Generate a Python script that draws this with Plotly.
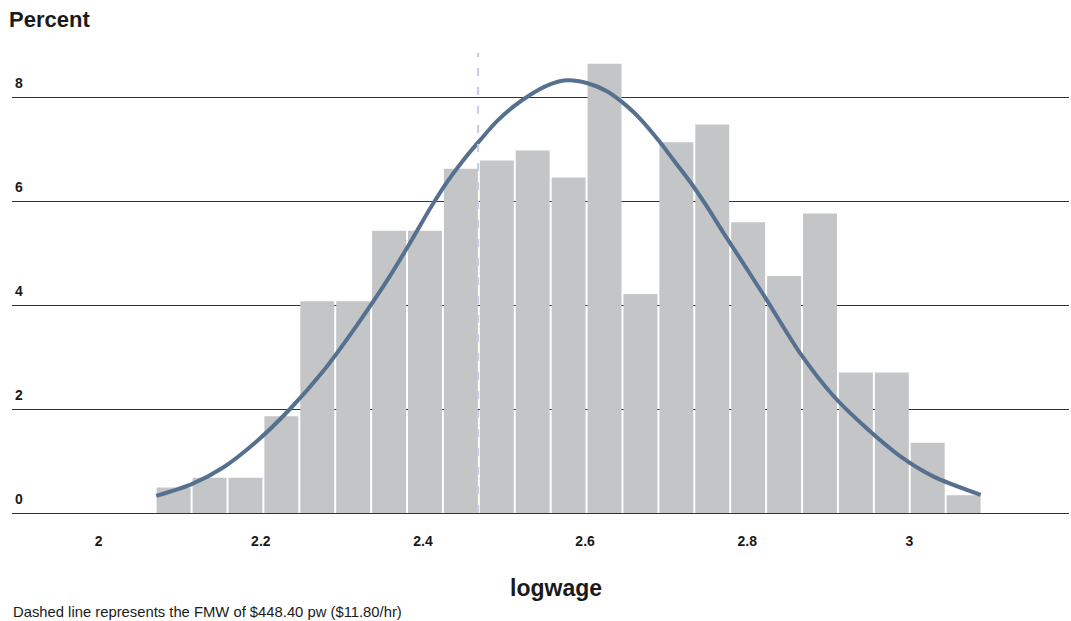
import plotly.graph_objects as go

# ---- data ----
bin_centers = [2.0924, 2.1367, 2.1810, 2.2253, 2.2696, 2.3139, 2.3582, 2.4025,
               2.4468, 2.4911, 2.5354, 2.5797, 2.6240, 2.6683, 2.7126, 2.7569,
               2.8012, 2.8455, 2.8898, 2.9341, 2.9784, 3.0227, 3.0670]
percent = [0.49, 0.68, 0.68, 1.86, 4.07, 4.07, 5.43, 5.43, 6.62, 6.78, 6.97, 6.45,
           8.64, 4.21, 7.13, 7.47, 5.59, 4.56, 5.76, 2.70, 2.70, 1.35, 0.34]

curve_x = [2.071, 2.114, 2.154, 2.195, 2.236, 2.277, 2.318, 2.359, 2.388, 2.409,
           2.429, 2.450, 2.471, 2.491, 2.512, 2.532, 2.553, 2.577, 2.602, 2.627,
           2.652, 2.668, 2.693, 2.709, 2.730, 2.750, 2.771, 2.791, 2.824, 2.865,
           2.907, 2.948, 2.989, 3.030, 3.088]
curve_y = [0.33, 0.55, 0.88, 1.38, 2.00, 2.73, 3.60, 4.55, 5.30, 5.86,
           6.35, 6.79, 7.18, 7.53, 7.82, 8.04, 8.22, 8.32, 8.27, 8.11,
           7.82, 7.58, 7.12, 6.79, 6.36, 5.90, 5.38, 4.90, 4.10, 3.08,
           2.24, 1.62, 1.09, 0.70, 0.35]

fmw_logwage = 2.468  # ln(11.80)

x_ticks = [2, 2.2, 2.4, 2.6, 2.8, 3]
x_tick_labels = ["2", "2.2", "2.4", "2.6", "2.8", "3"]
y_ticks = [0, 2, 4, 6, 8]
y_tick_labels = ["0", "2", "4", "6", "8"]

FONT = "Liberation Sans, Arial, Helvetica, sans-serif"
TXT = "#1a1a1a"

fig = go.Figure()
fig.add_trace(go.Bar(x=bin_centers, y=percent, marker=dict(color="#c4c5c7", line=dict(width=0)),
                     hoverinfo="x+y", showlegend=False))
fig.add_trace(go.Scatter(x=curve_x, y=curve_y, mode="lines",
                         line=dict(color="#56708f", width=4, shape="spline", smoothing=0.8),
                         showlegend=False))

fig.add_shape(type="line", xref="x", yref="paper", x0=fmw_logwage, x1=fmw_logwage,
              y0=0, y1=0.994, line=dict(color="#c3cfe0", width=2, dash="8px,11px"),
              layer="above")

fig.update_layout(
    width=1071, height=621,
    margin=dict(l=12, r=2, t=50, b=108),
    plot_bgcolor="white", paper_bgcolor="white",
    bargap=0.055,
    font=dict(family=FONT, color=TXT),
    xaxis=dict(range=[1.893, 3.197], tickvals=x_ticks, ticktext=x_tick_labels,
               showgrid=False, zeroline=False, showline=False, ticks="",
               tickfont=dict(size=14, family=FONT, color=TXT, weight="bold"),
               ticklabelstandoff=18),
    yaxis=dict(range=[0, 8.904], tickvals=y_ticks, ticktext=y_tick_labels,
               showgrid=True, gridcolor="#333333", gridwidth=1,
               zeroline=True, zerolinecolor="#333333", zerolinewidth=1,
               showline=False, ticks="",
               ticklabelposition="inside top", ticklabelshift=-4,
               tickfont=dict(size=14, family=FONT, color=TXT, weight="bold")),
    annotations=[
        dict(text="<b>Percent</b>", xref="paper", yref="paper", x=-0.0047, y=1.0654,
             xanchor="left", yanchor="middle", showarrow=False,
             font=dict(size=22, family=FONT, color=TXT)),
        dict(text="<b>logwage</b>", xref="paper", yref="paper", x=0.5147, y=-0.162,
             xanchor="center", yanchor="middle", showarrow=False,
             font=dict(size=23, family=FONT, color=TXT)),
        dict(text="Dashed line represents the FMW of $448.40 pw ($11.80/hr)",
             xref="paper", yref="paper", x=-0.001, y=-0.213,
             xanchor="left", yanchor="middle", showarrow=False,
             font=dict(size=14.8, family=FONT, color=TXT)),
    ],
)

# remove the page's default body margin so the 1071x621 figure fills the window exactly
fig.write_html("out.html",
               config={"displayModeBar": False},
               post_script="document.body.style.margin='0';document.body.style.overflow='hidden';")
